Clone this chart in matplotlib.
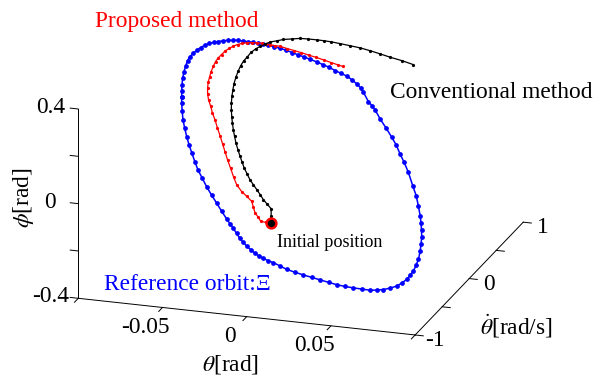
import matplotlib
matplotlib.use("Agg")
import matplotlib.pyplot as plt
from mpl_toolkits.mplot3d import proj3d

plt.rcParams["font.family"] = ["Liberation Serif", "DejaVu Serif"]
plt.rcParams["mathtext.fontset"] = "stix"

# reference orbit Xi: theta [rad], theta_dot [rad/s], phi [rad]
ref_theta = [-0.0707, -0.0723, -0.0734, -0.0746, -0.0754, -0.0758, -0.0762, -0.0760, -0.0753, -0.0744,
             -0.0739, -0.0725, -0.0711, -0.0697, -0.0680, -0.0663, -0.0643, -0.0620, -0.0600, -0.0580,
             -0.0557, -0.0533, -0.0510, -0.0484, -0.0457, -0.0425, -0.0392, -0.0360, -0.0324, -0.0289,
             -0.0253, -0.0214, -0.0171, -0.0131, -0.0092, -0.0053, -0.0011, 0.0030, 0.0067, 0.0105,
             0.0137, 0.0160, 0.0199, 0.0234, 0.0262, 0.0304, 0.0353, 0.0396, 0.0438, 0.0474,
             0.0511, 0.0549, 0.0591, 0.0624, 0.0653, 0.0680, 0.0698, 0.0717,
             0.0734, 0.0746, 0.0757, 0.0763, 0.0765, 0.0765, 0.0758, 0.0755, 0.0737, 0.0721,
             0.0697, 0.0667, 0.0639, 0.0614, 0.0573, 0.0534, 0.0494, 0.0451, 0.0412, 0.0368,
             0.0324, 0.0278, 0.0232, 0.0186, 0.0150, 0.0110, 0.0078, 0.0051, 0.0022, -0.0005,
             -0.0033, -0.0061, -0.0088, -0.0114, -0.0144, -0.0169, -0.0200, -0.0228, -0.0268, -0.0310,
             -0.0353, -0.0392, -0.0434, -0.0472, -0.0504, -0.0538, -0.0567, -0.0597, -0.0625, -0.0651,
             -0.0672, -0.0691, -0.0707]
ref_dtheta = [0.00, 0.05, 0.09, 0.14, 0.19, 0.23, 0.28, 0.32, 0.36, 0.40,
              0.45, 0.48, 0.52, 0.56, 0.59, 0.63, 0.66, 0.68, 0.71, 0.74,
              0.76, 0.78, 0.80, 0.81, 0.82, 0.83, 0.84, 0.85, 0.85, 0.85,
              0.85, 0.84, 0.83, 0.82, 0.81, 0.80, 0.78, 0.76, 0.74, 0.71,
              0.68, 0.66, 0.63, 0.59, 0.56, 0.52, 0.48, 0.45, 0.40, 0.36,
              0.32, 0.28, 0.23, 0.19, 0.14, 0.09, 0.05, 0.00,
              -0.05, -0.10, -0.15, -0.20, -0.25, -0.30, -0.34, -0.39, -0.43, -0.47,
              -0.52, -0.55, -0.59, -0.63, -0.66, -0.69, -0.72, -0.74, -0.77, -0.79,
              -0.81, -0.82, -0.83, -0.84, -0.85, -0.85, -0.85, -0.85, -0.84, -0.83,
              -0.82, -0.81, -0.79, -0.77, -0.74, -0.72, -0.69, -0.66, -0.63, -0.59,
              -0.55, -0.52, -0.47, -0.43, -0.39, -0.34, -0.30, -0.25, -0.20, -0.15,
              -0.10, -0.05, 0.00]
ref_phi = [0.236, 0.248, 0.263, 0.280, 0.293, 0.306, 0.318, 0.325, 0.332, 0.335,
           0.334, 0.338, 0.337, 0.333, 0.331, 0.326, 0.322, 0.319, 0.314, 0.305,
           0.299, 0.293, 0.287, 0.283, 0.278, 0.272, 0.265, 0.257, 0.250, 0.243,
           0.237, 0.232, 0.227, 0.221, 0.215, 0.207, 0.203, 0.199, 0.191, 0.184,
           0.177, 0.165, 0.136, 0.130, 0.122, 0.097, 0.071, 0.043, 0.026, 0.000,
           -0.023, -0.053, -0.094, -0.124, -0.152, -0.181, -0.201, -0.217,
           -0.234, -0.250, -0.267, -0.289, -0.302, -0.315, -0.324, -0.329, -0.337, -0.341,
           -0.340, -0.341, -0.336, -0.329, -0.320, -0.311, -0.301, -0.292, -0.278, -0.266,
           -0.254, -0.245, -0.235, -0.224, -0.210, -0.199, -0.193, -0.186, -0.180, -0.174,
           -0.163, -0.152, -0.143, -0.133, -0.121, -0.107, -0.096, -0.086, -0.063, -0.042,
           -0.021, 0.004, 0.025, 0.047, 0.071, 0.093, 0.115, 0.136, 0.157, 0.178,
           0.201, 0.224, 0.236]

# proposed method
prop_theta = [-0.0178, -0.0193, -0.0206, -0.0209, -0.0214, -0.0211, -0.0208, -0.0224, -0.0245, -0.0265,
              -0.0277, -0.0292, -0.0306, -0.0321, -0.0339, -0.0357, -0.0379, -0.0403, -0.0428, -0.0452,
              -0.0480, -0.0505, -0.0528, -0.0549, -0.0567, -0.0581, -0.0590, -0.0599, -0.0602, -0.0602,
              -0.0597, -0.0589, -0.0577, -0.0565, -0.0549, -0.0530, -0.0509, -0.0487, -0.0463, -0.0443,
              -0.0423, -0.0396, -0.0370, -0.0332, -0.0293, -0.0255, -0.0210, -0.0169, -0.0124, -0.0080,
              -0.0041, -0.0009]
prop_dtheta = [0.00, -0.05, -0.10, -0.14, -0.18, -0.22, -0.26, -0.30, -0.33, -0.36,
               -0.38, -0.39, -0.40, -0.40, -0.39, -0.38, -0.36, -0.33, -0.30, -0.26,
               -0.21, -0.15, -0.08, 0.00, 0.08, 0.15, 0.22, 0.29, 0.35, 0.41,
               0.46, 0.51, 0.55, 0.59, 0.62, 0.65, 0.68, 0.70, 0.72, 0.74,
               0.75, 0.76, 0.77, 0.78, 0.79, 0.80, 0.80, 0.81, 0.81, 0.81,
               0.81, 0.81]
prop_phi = [-0.258, -0.243, -0.227, -0.200, -0.173, -0.139, -0.105, -0.076, -0.050, -0.016,
            0.021, 0.060, 0.095, 0.128, 0.158, 0.188, 0.215, 0.240, 0.260, 0.279,
            0.290, 0.299, 0.306, 0.311, 0.312, 0.316, 0.321, 0.324, 0.325, 0.325,
            0.328, 0.328, 0.329, 0.327, 0.326, 0.323, 0.318, 0.314, 0.309, 0.302,
            0.299, 0.295, 0.292, 0.283, 0.275, 0.267, 0.260, 0.251, 0.244, 0.236,
            0.230, 0.225]

# conventional method
conv_theta = [-0.0178, -0.0176, -0.0176, -0.0181, -0.0187, -0.0190, -0.0197, -0.0205, -0.0215, -0.0226,
              -0.0239, -0.0252, -0.0267, -0.0283, -0.0301, -0.0316, -0.0333, -0.0348, -0.0365, -0.0380,
              -0.0396, -0.0409, -0.0422, -0.0435, -0.0443, -0.0449, -0.0454, -0.0455, -0.0450, -0.0443,
              -0.0432, -0.0418, -0.0401, -0.0381, -0.0351, -0.0321, -0.0282, -0.0238, -0.0195, -0.0152,
              -0.0112, -0.0073, -0.0023, 0.0033, 0.0089, 0.0145, 0.0205, 0.0261, 0.0330, 0.0394]
conv_dtheta = [0.00, 0.00, 0.00, -0.06, -0.11, -0.16, -0.20, -0.24, -0.27, -0.29,
               -0.30, -0.30, -0.29, -0.28, -0.26, -0.24, -0.21, -0.18, -0.14, -0.10,
               -0.05, 0.00, 0.06, 0.12, 0.18, 0.24, 0.30, 0.36, 0.41, 0.46,
               0.51, 0.55, 0.59, 0.62, 0.65, 0.68, 0.71, 0.73, 0.75, 0.77,
               0.78, 0.79, 0.80, 0.81, 0.82, 0.83, 0.83, 0.84, 0.84, 0.85]
conv_phi = [-0.258, -0.226, -0.196, -0.162, -0.132, -0.099, -0.069, -0.039, -0.012, 0.017,
            0.042, 0.066, 0.087, 0.111, 0.133, 0.156, 0.175, 0.195, 0.212, 0.230,
            0.245, 0.261, 0.274, 0.284, 0.296, 0.307, 0.314, 0.321, 0.326, 0.334,
            0.338, 0.340, 0.342, 0.345, 0.345, 0.346, 0.344, 0.345, 0.341, 0.336,
            0.333, 0.329, 0.323, 0.316, 0.309, 0.299, 0.290, 0.278, 0.269, 0.255]

init_pos = (-0.0178, 0.0, -0.258)

theta_lim = (-0.1, 0.1)
dtheta_lim = (-1, 1)
phi_lim = (-0.4, 0.4)
theta_ticks = [-0.1, -0.05, 0, 0.05, 0.1]
theta_labels = {-0.05: "-0.05", 0: "0", 0.05: "0.05"}
dtheta_ticks = [-1, -0.5, 0, 0.5, 1]
dtheta_labels = {-1: "-1", 0: "0", 1: "1"}
phi_ticks = [-0.4, -0.2, 0, 0.2, 0.4]
phi_labels = {-0.4: "-0.4", 0: "0", 0.4: "0.4"}

W, H = 595, 378
fs = 16.8

fig = plt.figure(figsize=(W / 100, H / 100), dpi=100)
ax = fig.add_axes([0, 0, 1, 1], projection="3d", computed_zorder=False)
ax.set_proj_type("ortho")
ax.view_init(elev=19.7, azim=-72.1)
ax.set_box_aspect((1, 0.9935, 0.568))
ax.set_xlim(*theta_lim)
ax.set_ylim(*dtheta_lim)
ax.set_zlim(*phi_lim)
ax.set_axis_off()


def to_px(x, y, z):
    xs, ys, _ = proj3d.proj_transform(x, y, z, ax.get_proj())
    return ax.transData.transform((xs, ys))


# place the 3d box so that the phi axis lands where it is in the figure
fig.canvas.draw()
a = to_px(theta_lim[0], dtheta_lim[0], phi_lim[0])
b = to_px(theta_lim[0], dtheta_lim[0], phi_lim[1])
s = 189.3 / (b[1] - a[1])
pos = ax.get_position()
nx0 = 78.3 - s * (a[0] - pos.x0 * W)
ny0 = (H - 298.3) - s * (a[1] - pos.y0 * H)
ax.set_position([nx0 / W, ny0 / H, s * pos.width, s * pos.height])

# axis lines and ticks
kw = dict(color="black", lw=0.7, clip_on=False)
t0, t1 = theta_lim
d0, d1 = dtheta_lim
p0, p1 = phi_lim
ax.plot([t0, t0], [d0, d0], [p0, p1], **kw)
ax.plot([t0, t1], [d0, d0], [p0, p0], **kw)
ax.plot([t1, t1], [d0, d1], [p0, p0], **kw)
for v in phi_ticks:
    ax.plot([t0, t0 - 0.0048], [d0, d0], [v, v], **kw)
for v in theta_ticks:
    ax.plot([v, v], [d0, d0 - 0.07], [p0, p0], **kw)
for v in dtheta_ticks:
    ax.plot([t1, t1 + 0.0048], [v, v], [p0, p0], **kw)


# tick labels, placed beside the projected tick positions
def tick_text(pt, dx, dy, s_):
    p = to_px(*pt)
    fig.text((p[0] + dx) / W, (p[1] + dy) / H, s_, ha="center", va="center",
             fontsize=fs)


for v, s_ in phi_labels.items():
    tick_text((t0, d0, v), -28, 1.5, s_)
for v, s_ in theta_labels.items():
    tick_text((v, d0, p0), -17, -20, s_)
for v, s_ in dtheta_labels.items():
    tick_text((t1, v, p0), 20, -5.5, s_)

# trajectories
ax.plot(ref_theta, ref_dtheta, ref_phi, color="#0000ff", lw=1.1, marker="o",
        ms=2.4, clip_on=False)
ax.plot(prop_theta, prop_dtheta, prop_phi, color="#ff0000", lw=0.9, marker="o",
        ms=1.3, clip_on=False)
ax.plot(conv_theta, conv_dtheta, conv_phi, color="black", lw=0.9, marker="o",
        ms=1.3, clip_on=False)
ax.plot([init_pos[0]], [init_pos[1]], [init_pos[2]], marker="o", ms=7.8,
        color="#ff0000", clip_on=False)
ax.plot([init_pos[0]], [init_pos[1]], [init_pos[2]], marker="o", ms=4.2,
        color="black", clip_on=False)


def ftext(x, y, s_, **k):
    fig.text(x / W, 1 - y / H, s_, **k)


ftext(95, 26.7, "Proposed method", color="#ff0000", fontsize=fs, va="baseline")
ftext(390, 98, "Conventional method", color="black", fontsize=fs, va="baseline")
ftext(277.3, 246.7, "Initial position", color="black", fontsize=13.1, va="baseline")
ftext(104, 290, "Reference orbit:Ξ", color="#0000ff", fontsize=fs, va="baseline")
ftext(201.7, 370, r"$\theta$[rad]", fontsize=fs, va="baseline")
ftext(480, 335, r"$\dot{\theta}$[rad/s]", fontsize=fs, va="baseline")
ftext(24, 198, r"$\phi$[rad]", fontsize=fs, rotation=90, ha="center", va="center")

fig.savefig("out.png", dpi=100)
